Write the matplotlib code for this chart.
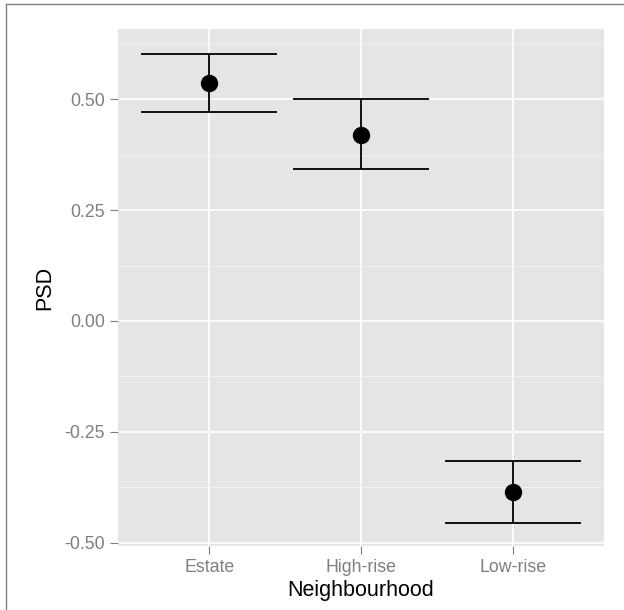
import matplotlib
matplotlib.use('Agg')
import matplotlib.pyplot as plt
from matplotlib.lines import Line2D
import numpy as np

plt.rcParams['font.family'] = ['Liberation Sans', 'DejaVu Sans']

# data
categories = ['Estate', 'High-rise', 'Low-rise']
psd_mean = [0.537, 0.420, -0.385]
psd_low = [0.471, 0.342, -0.455]
psd_high = [0.601, 0.499, -0.315]
yticks = [-0.50, -0.25, 0.00, 0.25, 0.50]
yticklabels = ['-0.50', '-0.25', '0.00', '0.25', '0.50']

x = np.arange(1, len(categories) + 1)
capw = 0.45

fig = plt.figure(figsize=(6.24, 6.10), dpi=100)
ax = fig.add_axes([118/624, 1 - 546/610, 486/624, 517/610])
ax.set_facecolor('#E5E5E5')

# grid: minor lines first, then major
minor = [-0.375, -0.125, 0.125, 0.375, 0.625]
for m in minor:
	ax.axhline(m, color='#F2F2F2', lw=0.7, zorder=0.5)
for t in yticks:
	ax.axhline(t, color='white', lw=1.2, zorder=0.6)
for xi in x:
	ax.axvline(xi, color='white', lw=1.2, zorder=0.6)

ax.vlines(x, psd_low, psd_high, color='black', lw=1.3, zorder=2)
ax.hlines(psd_low, x - capw, x + capw, color='black', lw=1.3, zorder=2)
ax.hlines(psd_high, x - capw, x + capw, color='black', lw=1.3, zorder=2)
ax.plot(x, psd_mean, 'o', color='black', markersize=11.5, zorder=3)

ax.set_xlim(0.4, 3.6)
ax.set_ylim(-0.5068, 0.6577)
ax.set_xticks(x)
ax.set_xticklabels(categories)
ax.set_yticks(yticks)
ax.set_yticklabels(yticklabels)
ax.tick_params(axis='both', colors='#7F7F7F', labelcolor='#7F7F7F', labelsize=12.8,
	length=5.5, width=0.8, pad=4)

for s in ax.spines.values():
	s.set_visible(False)

ax.set_xlabel('Neighbourhood', fontsize=15.5, color='black')
ax.set_ylabel('PSD', fontsize=15.5, color='black')
ax.xaxis.set_label_coords(0.5, -0.087)
ax.yaxis.set_label_coords(-0.150, 0.5)
ax.xaxis.label.set_va('center')
ax.yaxis.label.set_va('center')

# cropped frame border (top and left only)
fig.add_artist(Line2D([5.5/624, 1], [1 - 4/610, 1 - 4/610], transform=fig.transFigure,
	color='#808080', lw=1.0))
fig.add_artist(Line2D([5.5/624, 5.5/624], [0, 1 - 4/610], transform=fig.transFigure,
	color='#808080', lw=1.0))

fig.savefig('out.png', dpi=100)
